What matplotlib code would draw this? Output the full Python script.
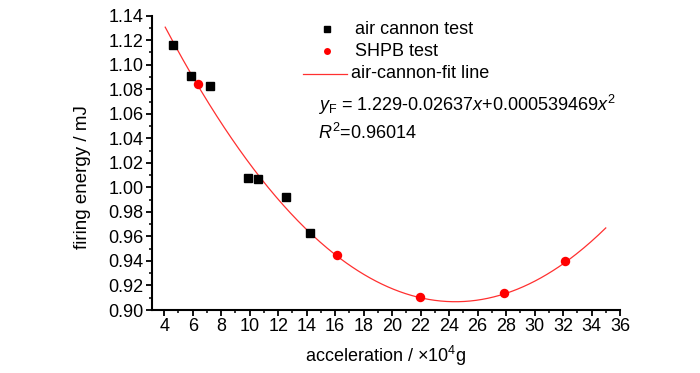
import numpy as np
import matplotlib
matplotlib.use("Agg")
import matplotlib.pyplot as plt
from matplotlib.ticker import MultipleLocator, FormatStrFormatter
from matplotlib.lines import Line2D

# ---- data ----
air_x = [4.6, 5.9, 7.2, 9.9, 10.6, 12.55, 14.23]
air_y = [1.116, 1.091, 1.083, 1.008, 1.007, 0.992, 0.963]
shpb_x = [6.34, 16.15, 21.98, 27.86, 32.14]
shpb_y = [1.084, 0.945, 0.911, 0.914, 0.940]
fit_coeffs = [0.000539469, -0.02637, 1.229]   # quadratic, highest power first
fit_range = [4.07, 35.0]

plt.rcParams['font.family'] = ['Liberation Sans', 'DejaVu Sans']
plt.rcParams['mathtext.fontset'] = 'custom'
plt.rcParams['mathtext.rm'] = 'Liberation Sans'
plt.rcParams['mathtext.it'] = 'Liberation Sans:italic'

fig = plt.figure(figsize=(7.0, 3.73), dpi=100)
ax = fig.add_axes([0.2167, 0.1689, 0.8857 - 0.2167, 0.958 - 0.1689])

fx = np.linspace(fit_range[0], fit_range[1], 300)
ax.plot(fx, np.polyval(fit_coeffs, fx), color='#ff3030', lw=0.9, zorder=2)
ax.plot(air_x, air_y, 's', color='black', ms=6.3, zorder=3)
ax.plot(shpb_x, shpb_y, 'o', color='red', ms=6.8, mec='none', zorder=3)

ax.set_xlim(3.12, 36)
ax.set_ylim(0.90, 1.14)
ax.xaxis.set_major_locator(MultipleLocator(2))
ax.xaxis.set_minor_locator(MultipleLocator(1))
ax.yaxis.set_major_locator(MultipleLocator(0.02))
ax.yaxis.set_minor_locator(MultipleLocator(0.01))
ax.yaxis.set_major_formatter(FormatStrFormatter('%.2f'))
ax.set_xticks(np.arange(4, 37, 2))

for s in ['top', 'right']:
    ax.spines[s].set_visible(False)
for s in ['left', 'bottom']:
    ax.spines[s].set_linewidth(1.5)

ax.tick_params(which='major', direction='out', length=4, width=1.3, labelsize=13, pad=2)
ax.tick_params(which='minor', direction='out', length=2.5, width=1.1)

ax.set_xlabel('acceleration / $\\times$10$^{4}$g', fontsize=13, labelpad=6)
ax.set_ylabel('firing energy / mJ', fontsize=13.5)
ax.yaxis.set_label_coords(-0.147, 0.45)
ax.yaxis.label.set_va('center')

# legend-like annotations
fs = 13
def px(x, y):
    return (x / 700.0, 1 - y / 373.0)

fig.lines.append(Line2D([px(327, 0)[0]], [px(0, 29)[1]], marker='s', color='black', ms=4.5,
                        transform=fig.transFigure, ls='none'))
fig.lines.append(Line2D([px(327, 0)[0]], [px(0, 51)[1]], marker='o', color='red', ms=5, mec='none',
                        transform=fig.transFigure, ls='none'))
fig.lines.append(Line2D([px(303, 0)[0], px(347, 0)[0]], [px(0, 74)[1]] * 2, color='#ff3030', lw=0.9,
                        transform=fig.transFigure))
fig.text(*px(355, 29), 'air cannon test', fontsize=fs, va='center', ha='left')
fig.text(*px(355, 51), 'SHPB test', fontsize=fs, va='center', ha='left')
fig.text(*px(351, 74), 'air-cannon-fit line', fontsize=fs, va='center', ha='left')
fig.text(*px(318, 105), r'$y_{\mathrm{F}}$ = 1.229-0.02637$x$+0.000539469$x^{2}$', fontsize=fs,
         va='center', ha='left')
fig.text(*px(318, 133), r'$R^{2}$=0.96014', fontsize=fs, va='center', ha='left')

fig.savefig('out.png', dpi=100)
